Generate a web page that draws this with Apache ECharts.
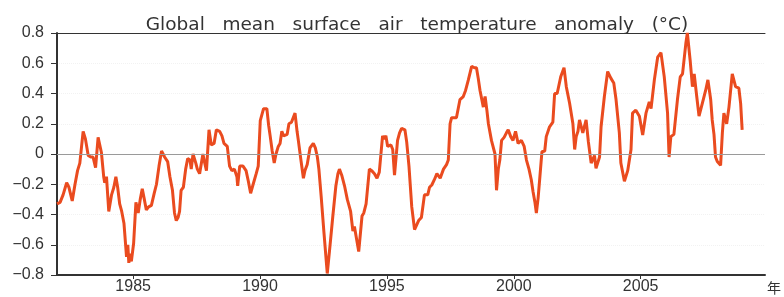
<!DOCTYPE html>
<html>
<head>
<meta charset="utf-8">
<script src="https://cdn.jsdelivr.net/npm/echarts@6/dist/echarts.min.js"></script>
<style>
  html, body { margin: 0; padding: 0; background: #fff; }
  #chart { width: 784px; height: 297px; }
</style>
</head>
<body>
<div id="chart"></div>
<script>
// time in decimal years
var years = [
  1982.00, 1982.12, 1982.24, 1982.38, 1982.47, 1982.60, 1982.71, 1982.81, 1982.90, 1983.03,
  1983.12, 1983.23, 1983.33, 1983.42, 1983.52, 1983.62, 1983.75, 1983.84, 1983.88, 1983.95,
  1984.04, 1984.15, 1984.24, 1984.32, 1984.39, 1984.47, 1984.55, 1984.64, 1984.74, 1984.79,
  1984.83, 1984.88, 1984.93, 1985.02, 1985.11, 1985.20, 1985.28, 1985.36, 1985.43, 1985.52,
  1985.61, 1985.72, 1985.83, 1985.92, 1986.02, 1986.12, 1986.24, 1986.36, 1986.45, 1986.55,
  1986.63, 1986.70, 1986.77, 1986.83, 1986.89, 1986.98, 1987.07, 1987.15, 1987.24, 1987.29,
  1987.36, 1987.47, 1987.53, 1987.62, 1987.75, 1987.81, 1987.89, 1987.99, 1988.08, 1988.19,
  1988.28, 1988.41, 1988.50, 1988.58, 1988.71, 1988.80, 1988.89, 1988.99, 1989.09, 1989.12,
  1989.20, 1989.33, 1989.45, 1989.54, 1989.63, 1989.73, 1989.85, 1989.93, 1990.01, 1990.14,
  1990.20, 1990.27, 1990.34, 1990.40, 1990.48, 1990.56, 1990.63, 1990.72, 1990.79, 1990.86,
  1990.93, 1990.99, 1991.07, 1991.14, 1991.24, 1991.38, 1991.46, 1991.51, 1991.62, 1991.71,
  1991.77, 1991.86, 1991.97, 1992.10, 1992.18, 1992.26, 1992.32, 1992.41, 1992.52, 1992.65,
  1992.75, 1992.87, 1992.99, 1993.07, 1993.13, 1993.22, 1993.33, 1993.44, 1993.57, 1993.66,
  1993.72, 1993.79, 1993.89, 1994.02, 1994.09, 1994.18, 1994.31, 1994.40, 1994.51, 1994.61,
  1994.70, 1994.83, 1994.89, 1994.96, 1995.03, 1995.16, 1995.23, 1995.30, 1995.42, 1995.50,
  1995.58, 1995.71, 1995.78, 1995.87, 1995.98, 1996.09, 1996.17, 1996.25, 1996.36, 1996.48,
  1996.61, 1996.68, 1996.77, 1996.87, 1996.97, 1997.10, 1997.23, 1997.35, 1997.42, 1997.49,
  1997.55, 1997.74, 1997.88, 1998.01, 1998.10, 1998.21, 1998.34, 1998.45, 1998.53, 1998.60,
  1998.67, 1998.80, 1998.87, 1998.94, 1999.00, 1999.12, 1999.26, 1999.32, 1999.39, 1999.45,
  1999.52, 1999.62, 1999.71, 1999.78, 1999.88, 1999.97, 2000.07, 2000.17, 2000.30, 2000.41,
  2000.50, 2000.60, 2000.69, 2000.76, 2000.83, 2000.89, 2000.96, 2001.02, 2001.11, 2001.22,
  2001.28, 2001.41, 2001.54, 2001.61, 2001.71, 2001.85, 2001.98, 2002.07, 2002.20, 2002.33,
  2002.40, 2002.46, 2002.53, 2002.59, 2002.72, 2002.85, 2002.94, 2003.05, 2003.18, 2003.24,
  2003.38, 2003.44, 2003.57, 2003.70, 2003.83, 2003.94, 2004.03, 2004.16, 2004.22, 2004.36,
  2004.49, 2004.62, 2004.68, 2004.81, 2004.95, 2005.08, 2005.21, 2005.34, 2005.41, 2005.54,
  2005.67, 2005.80, 2005.93, 2006.06, 2006.12, 2006.19, 2006.31, 2006.45, 2006.56, 2006.65,
  2006.78, 2006.84, 2006.95, 2007.04, 2007.11, 2007.21, 2007.30, 2007.43, 2007.56, 2007.65,
  2007.76, 2007.82, 2007.89, 2007.95, 2008.02, 2008.15, 2008.22, 2008.28, 2008.39, 2008.48,
  2008.61, 2008.74, 2008.87, 2008.94, 2009.00
];
// global mean surface air temperature anomaly (°C)
var anomaly = [
  -0.33, -0.32, -0.27, -0.19, -0.22, -0.31, -0.20, -0.11, -0.06, 0.15,
  0.10, -0.01, -0.02, -0.02, -0.09, 0.11, 0.01, -0.15, -0.19, -0.15,
  -0.38, -0.27, -0.22, -0.15, -0.22, -0.33, -0.38, -0.46, -0.68, -0.60,
  -0.72, -0.66, -0.71, -0.59, -0.32, -0.39, -0.30, -0.23, -0.29, -0.37,
  -0.35, -0.34, -0.26, -0.20, -0.08, 0.02, -0.02, -0.05, -0.15, -0.24,
  -0.39, -0.44, -0.42, -0.38, -0.24, -0.22, -0.10, -0.03, -0.04, -0.10,
  0.00, -0.06, -0.10, -0.13, 0.00, -0.05, -0.11, 0.16, 0.06, 0.07,
  0.16, 0.15, 0.12, 0.07, 0.05, -0.08, -0.11, -0.10, -0.15, -0.21,
  -0.08, -0.08, -0.11, -0.18, -0.26, -0.20, -0.13, -0.08, 0.22, 0.30,
  0.31, 0.30, 0.19, 0.12, 0.02, -0.06, 0.00, 0.05, 0.07, 0.15,
  0.12, 0.12, 0.13, 0.20, 0.21, 0.27, 0.15, 0.09, -0.05, -0.16,
  -0.11, -0.07, 0.04, 0.07, 0.04, -0.02, -0.10, -0.28, -0.52, -0.79,
  -0.62, -0.41, -0.21, -0.13, -0.10, -0.14, -0.21, -0.30, -0.38, -0.51,
  -0.48, -0.48, -0.645, -0.41, -0.39, -0.33, -0.10, -0.11, -0.13, -0.16,
  -0.12, 0.12, 0.10, 0.12, 0.05, 0.06, 0.03, -0.14, 0.09, 0.14,
  0.17, 0.16, 0.08, -0.08, -0.35, -0.50, -0.47, -0.44, -0.42, -0.27,
  -0.27, -0.22, -0.205, -0.17, -0.13, -0.16, -0.10, -0.07, -0.04, 0.20,
  0.24, 0.24, 0.36, 0.38, 0.42, 0.49, 0.58, 0.57, 0.57, 0.50,
  0.42, 0.31, 0.38, 0.29, 0.20, 0.09, 0.00, -0.24, -0.10, -0.04,
  0.09, 0.11, 0.14, 0.16, 0.115, 0.09, 0.15, 0.07, 0.09, 0.05,
  -0.04, -0.10, -0.17, -0.25, -0.315, -0.39, -0.29, -0.17, 0.015, 0.02,
  0.115, 0.18, 0.21, 0.40, 0.40, 0.51, 0.57, 0.445, 0.335, 0.20,
  0.03, 0.115, 0.15, 0.225, 0.14, 0.225, 0.08, -0.06, -0.01, -0.095,
  -0.02, 0.18, 0.38, 0.545, 0.50, 0.47, 0.36, 0.14, -0.06, -0.18,
  -0.11, 0.03, 0.27, 0.29, 0.25, 0.125, 0.27, 0.345, 0.30, 0.49,
  0.64, 0.67, 0.51, 0.27, -0.02, 0.115, 0.13, 0.36, 0.51, 0.53,
  0.73, 0.80, 0.62, 0.445, 0.53, 0.38, 0.25, 0.335, 0.42, 0.49,
  0.36, 0.225, 0.13, -0.02, -0.05, -0.075, 0.14, 0.27, 0.20, 0.31,
  0.53, 0.445, 0.435, 0.335, 0.16
];
var yearTicks = [1985, 1990, 1995, 2000, 2005];
// wide word gaps as in the original figure
var chartTitle = 'Global   mean   surface   air   temperature   anomaly   (°C)';
var xName = '年';

var points = years.map(function (y, i) { return [y, anomaly[i]]; });

var myChart = echarts.init(document.getElementById('chart'));
var option = {
    animation: false,
    title: {
        text: chartTitle,
        left: 412,
        textAlign: 'center',
        top: 11,
        textStyle: {
            fontFamily: 'DejaVu Sans',
            fontWeight: 'normal',
            fontSize: 18.5,
            color: '#333'
        }
    },
    grid: {
        left: 57,
        right: 16,
        top: 33,
        bottom: 22
    },
    xAxis: [{
        type: 'value',
        min: 1982,
        max: 2009.9,
        name: xName,
        nameLocation: 'end',
        nameGap: 2,
        nameTextStyle: {
            fontFamily: 'Noto Sans CJK SC',
            fontSize: 14,
            color: '#333',
            verticalAlign: 'top',
            padding: [6, 0, 0, 0]
        },
        axisLine: { onZero: false, lineStyle: { color: '#333', width: 2 } },
        axisTick: {
            customValues: yearTicks,
            length: 4,
            lineStyle: { color: '#333' }
        },
        axisLabel: {
            customValues: yearTicks,
            margin: 4,
            fontFamily: 'Liberation Sans',
            fontSize: 16,
            color: '#333',
            formatter: function (v) {
                return String(Math.round(v));
            }
        },
        splitLine: { show: false }
    }, {
        type: 'value',
        position: 'top',
        min: 1982,
        max: 2009.9,
        axisLine: { show: true, onZero: false, lineStyle: { color: '#333', width: 1 } },
        axisTick: { show: false },
        axisLabel: { show: false },
        splitLine: { show: false }
    }],
    yAxis: {
        type: 'value',
        min: -0.8,
        max: 0.8,
        interval: 0.2,
        axisLine: { show: true, onZero: false, lineStyle: { color: '#333', width: 2 } },
        axisTick: { show: true, length: 6, lineStyle: { color: '#333' } },
        axisLabel: {
            margin: 13,
            fontFamily: 'Liberation Sans',
            fontSize: 16,
            color: '#333',
            formatter: function (v) {
                if (Math.abs(v) < 1e-9) return '0';
                return v.toFixed(1).replace('-', '\u2212');
            }
        },
        splitLine: {
            show: true,
            lineStyle: { color: '#f2f2f2', type: 'dotted' }
        }
    },
    series: [{
        type: 'line',
        data: points,
        showSymbol: false,
        lineStyle: { color: '#ea4b1f', width: 3 },
        markLine: {
            silent: true,
            symbol: 'none',
            label: { show: false },
            lineStyle: { color: '#9a9a9a', width: 1, type: 'solid' },
            data: [{ yAxis: 0 }]
        }
    }]
};
myChart.setOption(option);
</script>
</body>
</html>
